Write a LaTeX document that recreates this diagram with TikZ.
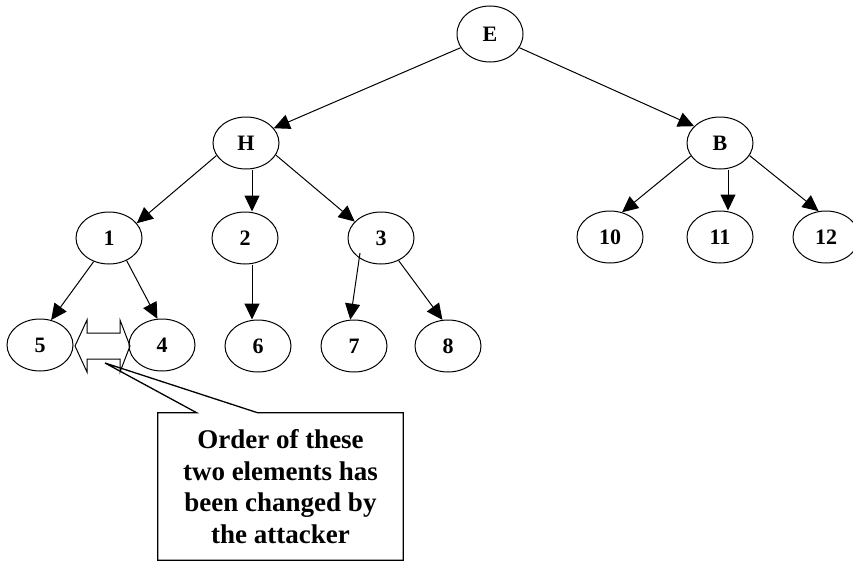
\documentclass[tikz,border=0pt]{standalone}
\usepackage{fontspec}
\setmainfont{Liberation Serif}
\usetikzlibrary{arrows.meta,shapes.geometric,calc}
\begin{document}
\begin{tikzpicture}[x=1pt,y=-1pt,
  keynode/.style={ellipse,draw,line width=1pt,minimum width=66pt,minimum height=52pt,
    inner sep=0pt,font=\fontsize{22}{22}\selectfont\bfseries},
  link/.style={line width=1pt,-{Triangle[length=16pt,width=15pt]}},
  outline/.style={line width=1pt,line join=miter}]
\useasboundingbox (0,0) rectangle (853,562);

% tree nodes
\node[keynode,minimum height=56pt] (E) at (490,34) {E};
\node[keynode] (H) at (246,143) {H};
\node[keynode] (B) at (720,143) {B};
\node[keynode] (n1) at (109,238) {1};
\node[keynode] (n2) at (245,238) {2};
\node[keynode] (n3) at (381,238) {3};
\node[keynode] (n10) at (610,237) {10};
\node[keynode] (n11) at (720,237) {11};
\node[keynode] (n12) at (826,237) {12};
\node[keynode] (n5) at (40,345) {5};
\node[keynode] (n4) at (162,345) {4};
\node[keynode] (n6) at (258,346) {6};
\node[keynode] (n7) at (354,346) {7};
\node[keynode] (n8) at (448,346) {8};

% edges
\draw[link] (E.205) -- (H.28);
\draw[link] (E.335) -- (B.147);
\draw[link] (H.203) -- (n1.28);
\draw[link] ([xshift=6pt]H.south) -- ([xshift=7pt]n2.north);
\draw[link] (H.338) -- (n3.148);
\draw[link] (B.204) -- (n10.64);
\draw[link] ([xshift=8pt]B.south) -- ([xshift=8pt]n11.north);
\draw[link] (B.337) -- (n12.106);
\draw[link] (n1.237) -- (n5.66);
\draw[link] (n1.308) -- (n4.100);
\draw[link] ([xshift=7pt]n2.south) -- ([xshift=-6pt]n6.north);
\draw[link] ($(n3)+(-21,15)$) -- (n7.98);
\draw[link] (n3.308) -- (n8.102);

% swap marker between 5 and 4
\coordinate (swap) at (102.5,346);
\draw[outline] ($(swap)+(-27.5,0)$) -- ++(12,-26) -- ++(0,13) -- ++(33,0) -- ++(0,-13)
  -- ++(10,26) -- ++(-10,26) -- ++(0,-13) -- ++(-33,0) -- ++(0,13) -- cycle;
\coordinate (hint) at (105,363);

% callout
\node[minimum width=245pt,minimum height=147pt,inner sep=0pt,align=center,
  font=\fontsize{27}{31.5}\selectfont\bfseries] (note) at (280.5,486.5)
  {Order of these\\two elements has\\been changed by\\the attacker};
\draw[outline,line width=1.3pt] (note.north west) -- ([xshift=39pt]note.north west) -- (hint)
  -- ([xshift=100pt]note.north west) -- (note.north east) -- (note.south east)
  -- (note.south west) -- cycle;
\end{tikzpicture}
\end{document}
